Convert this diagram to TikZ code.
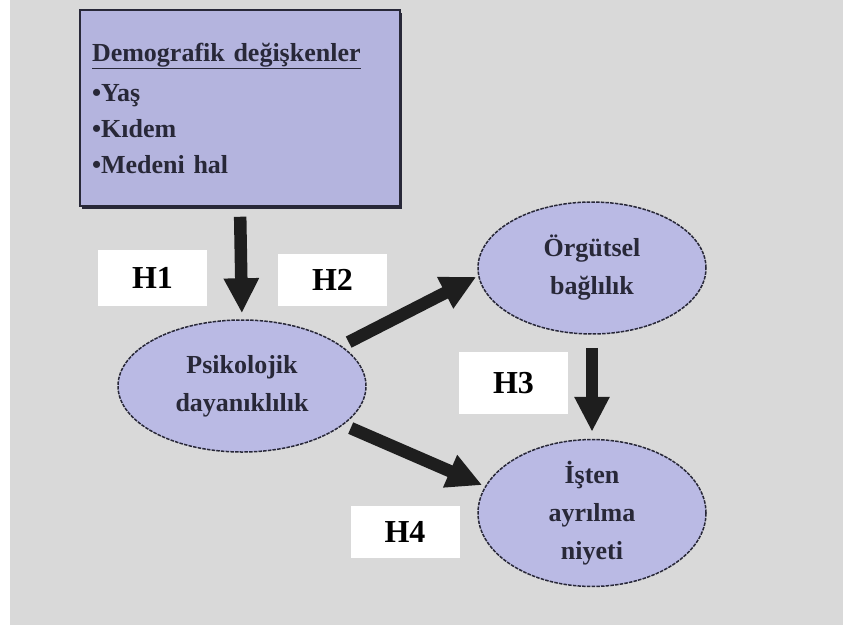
\documentclass[tikz,border=0pt]{standalone}
\usepackage{fontspec}
\setmainfont{Liberation Serif}
\usepackage{xcolor}
\definecolor{PanelGray}   {RGB}{217, 217, 217}
\definecolor{BoxLavender} {RGB}{180, 180, 222}
\definecolor{OvalLavender}{RGB}{186, 186, 228}
\definecolor{InkDark}     {RGB}{ 40,  40,  56}
\definecolor{ArrowDark}   {RGB}{ 30,  30,  30}
\usetikzlibrary{
  shapes.geometric,
  arrows.meta,
  shadows
}

\begin{document}
\begin{tikzpicture}[
  x=1pt, y=-1pt,
  demobox/.style={
    draw=InkDark, fill=BoxLavender,
    line width=1.5pt, align=left,
    text width=296pt, inner sep=12pt,
    minimum width=320pt, minimum height=196pt,
    text=InkDark,
    font=\bfseries\fontsize{26}{36}\selectfont,
    drop shadow={shadow xshift=2pt,
      shadow yshift=-3pt, fill=InkDark, opacity=1}
  },
  construct/.style={
    ellipse, draw=InkDark,
    fill=OvalLavender, line width=1.5pt,
    dash pattern=on 3.5pt off 1.2pt,
    align=center, inner sep=0pt,
    text=InkDark,
    font=\bfseries\fontsize{26}{38}\selectfont
  },
  hlabel/.style={
    fill=white, inner sep=0pt,
    minimum width=109pt,
    font=\bfseries\fontsize{32}{32}\selectfont
  },
  arrow/.style={
    -{Triangle[length=35pt, width=33pt]},
    line width=12.5pt, draw=ArrowDark}
]
\useasboundingbox (0,0) rectangle (843,627);
\fill[white] (0,0) rectangle (843,627);
\fill[PanelGray] (10,0) rectangle (843,625);

\node[demobox] (demo) at (240,108)
  {\underline{Demografik değişkenler}\\[4pt]
   •Yaş\\
   •Kıdem\\
   •Medeni hal};

\node[construct, minimum width=248pt,
  minimum height=132pt]
  (psy) at (242,386) {Psikolojik\\dayanıklılık};
\node[construct, minimum width=228pt,
  minimum height=132pt]
  (commit) at (592,268) {Örgütsel\\bağlılık};
\node[construct, minimum width=228pt,
  minimum height=146pt]
  (quit) at (592,513) {İşten\\ayrılma\\niyeti};

\node[hlabel, minimum height=56pt] (h1) at (152.5,278) {H1};
\node[hlabel, minimum height=52pt] (h2) at (332.5,280) {H2};
\node[hlabel, minimum height=62pt] (h3) at (513.5,383) {H3};
\node[hlabel, minimum height=52pt] (h4) at (405,532) {H4};

\draw[arrow, shorten <=10pt, shorten >=6pt]
  (demo.south) -- (psy.north);
\draw[arrow, shorten <=8pt, shorten >=2pt]
  (psy.22) -- (commit.184);
\draw[arrow, shorten <=13pt, shorten >=7pt]
  (commit.south) -- (quit.north);
\draw[arrow, shorten <=8pt, shorten >=3pt]
  (psy.-21) -- (quit.166);
\end{tikzpicture}
\end{document}
